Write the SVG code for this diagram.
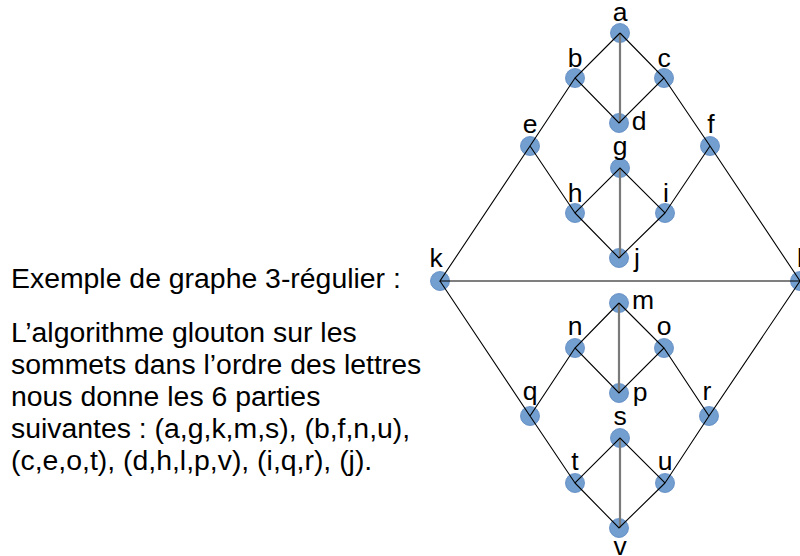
<svg xmlns="http://www.w3.org/2000/svg" width="800" height="556" viewBox="0 0 800 556">
<style>
.e{stroke:#000;stroke-width:1.1;fill:none}
.g{stroke:#7a7a7a;stroke-width:2.2;fill:none}
.n circle{fill:#729fcf;stroke:#5b87c0;stroke-width:0.8}
.n text,.t{font-family:"Liberation Sans",Arial,sans-serif;fill:#000}
.n text{font-size:26.5px;text-anchor:middle}
.t{font-size:28.4px}
</style>
<rect width="800" height="556" fill="#fff"/>
<g id="text">
<text class="t" x="11" y="288">Exemple de graphe 3-régulier :</text>
<text class="t" x="11" y="341.5">L’algorithme glouton sur les</text>
<text class="t" x="11" y="373.5">sommets dans l’ordre des lettres</text>
<text class="t" x="11" y="405.5">nous donne les 6 parties</text>
<text class="t" x="11" y="437.5">suivantes : (a,g,k,m,s), (b,f,n,u),</text>
<text class="t" x="11" y="469.5">(c,e,o,t), (d,h,l,p,v), (i,q,r), (j).</text>
</g>
<g id="nodes">
<g id="a" class="n"><circle cx="620" cy="33" r="9.5"/><text x="620" y="21">a</text></g>
<g id="b" class="n"><circle cx="575" cy="78" r="9.5"/><text x="575" y="66.5">b</text></g>
<g id="c" class="n"><circle cx="664" cy="78" r="9.5"/><text x="664" y="66.5">c</text></g>
<g id="d" class="n"><circle cx="619" cy="123" r="9.5"/><text x="639" y="129.5">d</text></g>
<g id="e" class="n"><circle cx="530" cy="146" r="9.5"/><text x="530" y="133">e</text></g>
<g id="f" class="n"><circle cx="710" cy="146" r="9.5"/><text x="711" y="133">f</text></g>
<g id="g" class="n"><circle cx="620" cy="168" r="9.5"/><text x="620" y="155">g</text></g>
<g id="h" class="n"><circle cx="575" cy="213" r="9.5"/><text x="575" y="201.5">h</text></g>
<g id="i" class="n"><circle cx="665" cy="213" r="9.5"/><text x="666" y="201.5">i</text></g>
<g id="j" class="n"><circle cx="619" cy="258" r="9.5"/><text x="637" y="266.5">j</text></g>
<g id="k" class="n"><circle cx="440" cy="281" r="9.5"/><text x="436" y="267">k</text></g>
<g id="l" class="n"><circle cx="800" cy="281" r="9.5"/><text x="797" y="267" style="text-anchor:start">l</text></g>
<g id="m" class="n"><circle cx="619" cy="303" r="9.5"/><text x="643" y="308.5">m</text></g>
<g id="n" class="n"><circle cx="575" cy="348" r="9.5"/><text x="575" y="335">n</text></g>
<g id="o" class="n"><circle cx="664" cy="348" r="9.5"/><text x="664" y="335">o</text></g>
<g id="p" class="n"><circle cx="619" cy="393" r="9.5"/><text x="640" y="400.5">p</text></g>
<g id="q" class="n"><circle cx="530" cy="416" r="9.5"/><text x="530" y="400">q</text></g>
<g id="r" class="n"><circle cx="709" cy="416" r="9.5"/><text x="707" y="400">r</text></g>
<g id="s" class="n"><circle cx="620" cy="438" r="9.5"/><text x="620" y="425">s</text></g>
<g id="t" class="n"><circle cx="575" cy="483" r="9.5"/><text x="575" y="470">t</text></g>
<g id="u" class="n"><circle cx="665" cy="483" r="9.5"/><text x="665" y="470">u</text></g>
<g id="v" class="n"><circle cx="619" cy="528" r="9.5"/><text x="620" y="555">v</text></g>
</g>
<g id="connectors">
<path class="g" d="M620 33V123M620 168V258M619 303V393M620 438V528"/>
<path class="e" d="M620 33L575 78L619 123L664 78L620 33M575 78L530 146L440 281L800 281L710 146L664 78M530 146L575 213L620 168L665 213L710 146M575 213L619 258L665 213"/>
<path class="e" d="M619 303L575 348L619 393L664 348L619 303M575 348L530 416L440 281M664 348L709 416L800 281M530 416L575 483L620 438L665 483L709 416M575 483L619 528L665 483"/>
</g>
</svg>
